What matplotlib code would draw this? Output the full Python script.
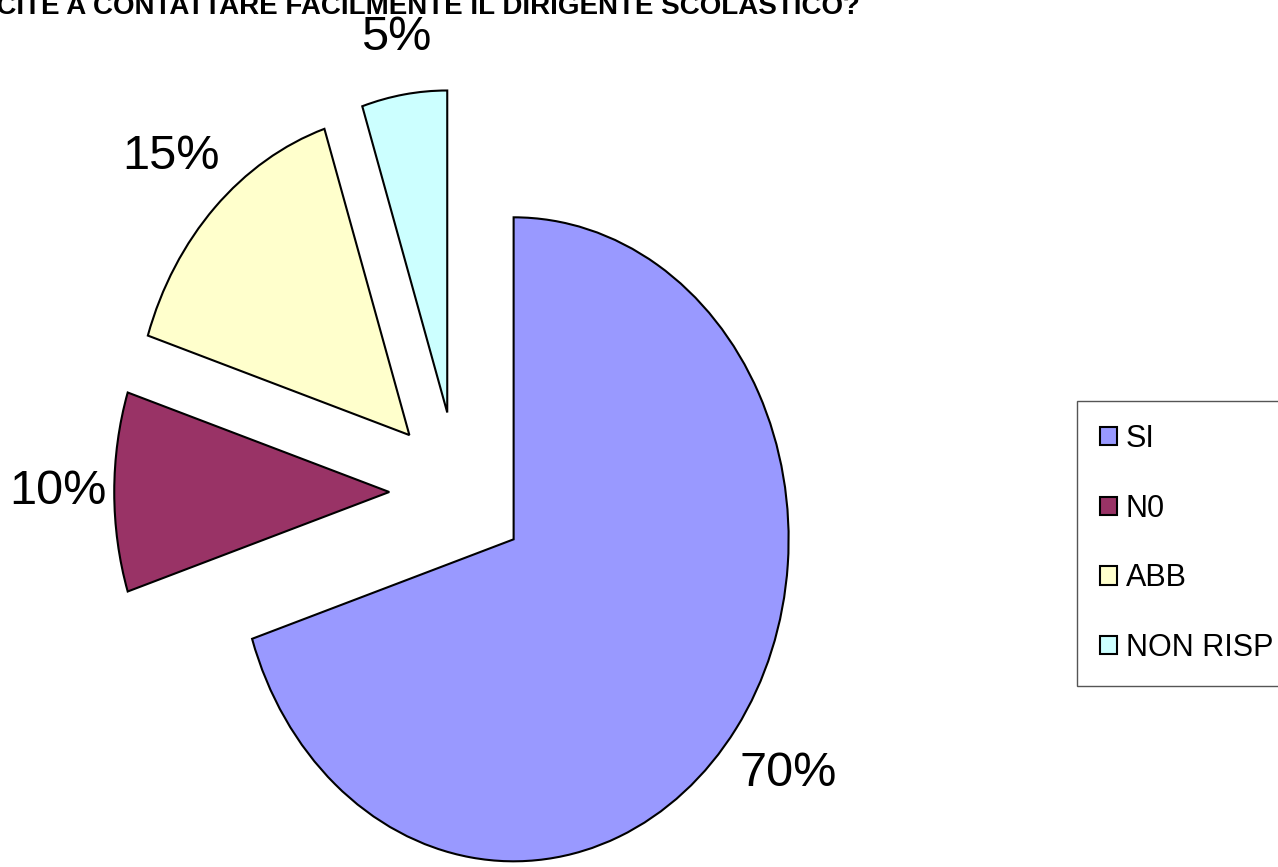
import matplotlib as mpl
mpl.use('Agg')
import matplotlib.pyplot as plt
import numpy as np

plt.rcParams['font.family'] = ['Liberation Sans', 'DejaVu Sans']

labels = ['SI', 'N0', 'ABB', 'NON RISP']
values = [70, 10, 15, 5]
colors = ['#9999FF', '#993366', '#FFFFCC', '#CCFFFF']
title = 'RIUSCITE A CONTATTARE FACILMENTE IL DIRIGENTE SCOLASTICO?'

# how far out each percentage sits, in radii
pct_dist = [1.235, 1.205, 1.225, 1.18]

fig = plt.figure(figsize=(12.78, 8.67), dpi=100)
ax = fig.add_axes([0, 0, 1, 1])

wedges, texts, autotexts = ax.pie(
  values, colors=colors, startangle=90, counterclock=False,
  explode=[0.25] * len(values), autopct='%1.0f%%', pctdistance=1.22,
  wedgeprops=dict(edgecolor='black', linewidth=1.5),
  textprops=dict(fontsize=35, color='black'))

for w, t, d in zip(wedges, autotexts, pct_dist):
  ang = np.deg2rad((w.theta1 + w.theta2) / 2)
  cx, cy = w.center
  t.set_position((cx + d * w.r * np.cos(ang), cy + d * w.r * np.sin(ang)))

ax.set_aspect('auto')
# centre of the pie at (458, 375) px, radii 275 px wide and 322 px tall
ax.set_xlim(-458 / 275, (1278 - 458) / 275)
ax.set_ylim(-375 / 322, (867 - 375) / 322)
ax.axis('off')

fig.text(860 / 1278, 1 - 14 / 867, title, ha='right', va='baseline',
         fontsize=20, fontweight='bold')

leg = fig.legend(wedges, labels, loc='upper left',
                 bbox_to_anchor=(1077 / 1278, 1 - 401 / 867), borderaxespad=0,
                 fontsize=22, handlelength=0.55, handleheight=0.55,
                 handletextpad=0.3, labelspacing=1.3, borderpad=0.75,
                 fancybox=False, framealpha=1, edgecolor='#555555')
leg.get_frame().set_linewidth(1)

fig.savefig('out.png', dpi=100)
